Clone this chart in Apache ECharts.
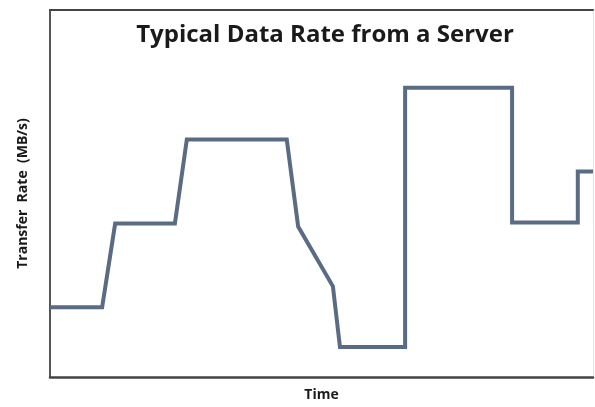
<!DOCTYPE html>
<html>
<head>
<meta charset="utf-8">
<script src="https://cdn.jsdelivr.net/npm/echarts@6/dist/echarts.min.js"></script>
<style>
html,body{margin:0;padding:0;background:#fff;}
#chart{width:595px;height:407px;}
</style>
</head>
<body>
<div id="chart"></div>
<script>
// Time (arbitrary units, 0-100) and transfer rate (arbitrary units, 0-100)
const timePoints = [0, 9.6, 12.0, 23.0, 25.2, 43.6, 45.7, 52.1, 53.4, 65.4, 65.4, 85.1, 85.1, 97.2, 97.2, 100];
const ratePoints = [19.0, 19.0, 41.8, 41.8, 64.7, 64.7, 41.0, 24.7, 8.2, 8.2, 78.8, 78.8, 42.1, 42.1, 56.0, 56.0];
const titleText = 'Typical Data Rate from a Server';
const xName = 'Time';
const yName = 'Transfer  Rate  (MB/s)';

const seriesData = timePoints.map((t, i) => [t, ratePoints[i]]);
const chart = echarts.init(document.getElementById('chart'), null, {renderer: 'canvas'});
const axisCommon = {
  min: 0, max: 100,
  axisTick: {show: false},
  axisLabel: {show: false},
  splitLine: {show: false}
};
chart.setOption({
  animation: false,
  backgroundColor: '#ffffff',
  title: {
    text: titleText,
    left: 320, textAlign: 'center',
    top: 18,
    textStyle: {fontFamily: 'Open Sans', fontWeight: 'bold', fontSize: 24, color: '#1a1a1a'}
  },
  grid: {left: 50, right: 2, top: 10, bottom: 29},
  xAxis: [
    Object.assign({type: 'value', position: 'bottom',
      name: xName, nameLocation: 'middle', nameGap: 11,
      nameTextStyle: {fontFamily: 'Open Sans', fontWeight: 'bold', fontSize: 14, color: '#1a1a1a'},
      axisLine: {show: true, onZero: false, lineStyle: {color: '#444', width: 2.5}}}, axisCommon),
    Object.assign({type: 'value', position: 'top',
      axisLine: {show: true, onZero: false, lineStyle: {color: '#444', width: 2}}}, axisCommon)
  ],
  yAxis: [
    Object.assign({type: 'value', position: 'left',
      name: yName, nameLocation: 'middle', nameGap: 20,
      nameTextStyle: {fontFamily: 'Open Sans', fontWeight: 'bold', fontSize: 14, color: '#1a1a1a'},
      axisLine: {show: true, onZero: false, lineStyle: {color: '#555', width: 2}}}, axisCommon),
    Object.assign({type: 'value', position: 'right',
      axisLine: {show: true, onZero: false, lineStyle: {color: '#e4e4e4', width: 1}}}, axisCommon)
  ],
  series: [{
    type: 'line',
    data: seriesData,
    xAxisIndex: 0, yAxisIndex: 0,
    showSymbol: false,
    symbol: 'none',
    lineStyle: {color: '#5a6c83', width: 4, join: 'miter'},
    clip: false
  }]
});
</script>
</body>
</html>
